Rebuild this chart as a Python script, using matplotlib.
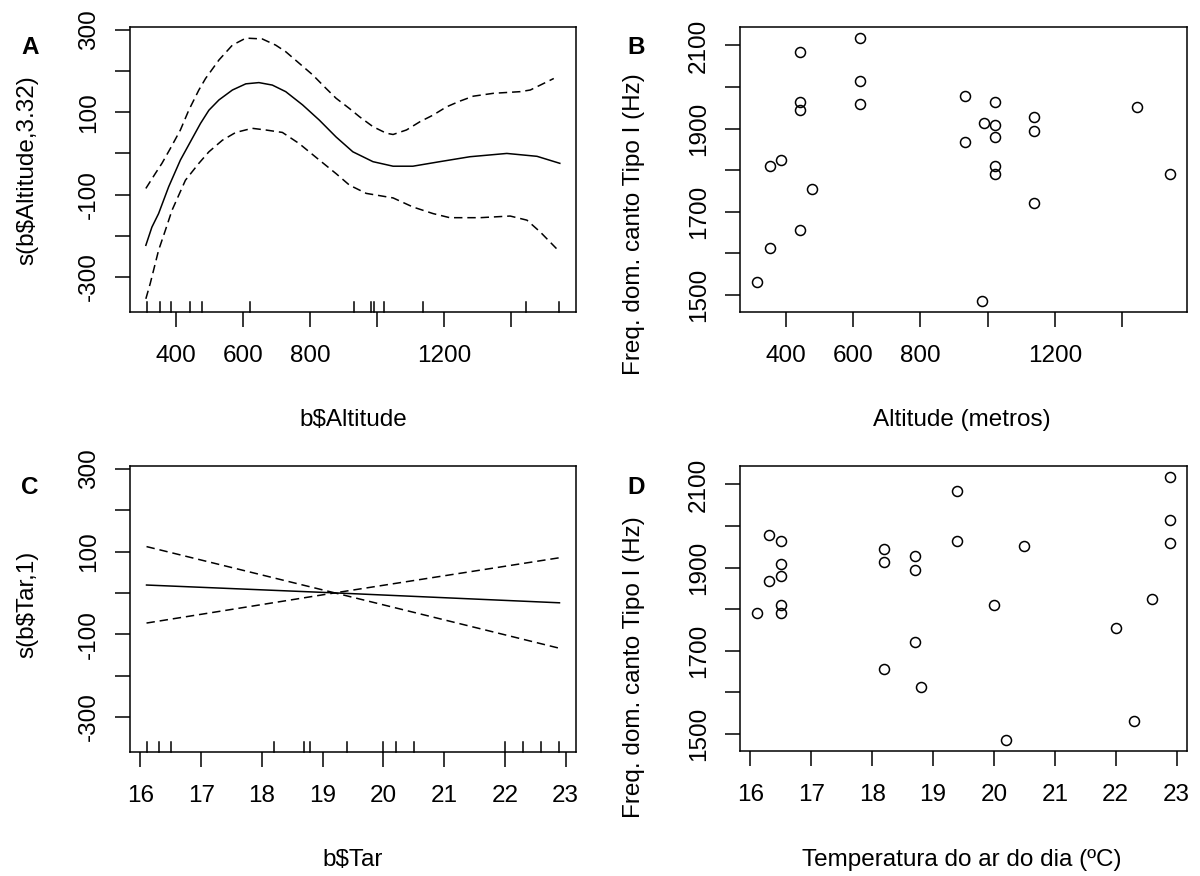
import matplotlib
matplotlib.use("Agg")
import matplotlib.pyplot as plt
import numpy as np

plt.rcParams['font.family'] = ['Liberation Sans', 'DejaVu Sans']

# one row per recording: altitude (m), air temperature (C), dominant frequency (Hz)
altitude = [313, 352, 352, 386, 443, 443, 443, 443, 477, 620, 620, 620, 932, 932,
            983, 990, 1022, 1022, 1022, 1022, 1022, 1138, 1138, 1138, 1444, 1544]
temp = [22.3, 18.8, 20.0, 22.6, 19.4, 19.4, 18.2, 18.2, 22.0, 22.9, 22.9, 22.9, 16.3, 16.3,
        20.2, 18.2, 16.5, 16.5, 16.5, 16.5, 16.5, 18.7, 18.7, 18.7, 20.5, 16.1]
freq = [1530, 1612, 1809, 1825, 2084, 1965, 1945, 1657, 1755, 2119, 2014, 1960, 1979, 1867,
        1484, 1914, 1964, 1909, 1879, 1810, 1790, 1929, 1895, 1721, 1953, 1790]

# gam smooth s(Altitude, 3.32): fit and +/- 2 se bands
fit_alt = [311, 329, 349, 379, 414, 449, 474, 499, 529, 569, 609, 648, 688, 728, 778, 828,
           878, 928, 988, 1048, 1107, 1187, 1277, 1387, 1477, 1545]
fit_val = [-223, -179, -146, -81, -16, 36, 73, 105, 130, 154, 169, 172, 166, 150, 118, 81,
           40, 4, -20, -31, -31, -20, -8, 0, -7, -24]
up_alt = [311, 339, 359, 384, 414, 439, 469, 489, 529, 569, 609, 658, 698, 728, 768, 808, 848,
          878, 918, 948, 988, 1028, 1048, 1088, 1128, 1167, 1207, 1247, 1287, 1347, 1427, 1457,
          1487, 1527]
up_val = [-85, -49, -24, 12, 57, 105, 154, 182, 227, 263, 280, 278, 263, 247, 219, 191, 158,
          134, 109, 89, 65, 49, 46, 57, 77, 93, 113, 127, 139, 146, 150, 154, 166, 182]
lo_alt = [311, 324, 349, 369, 389, 429, 469, 499, 539, 579, 628, 668, 718, 768, 828, 878, 918,
          968, 1048, 1107, 1167, 1217, 1307, 1397, 1447, 1487, 1535]
lo_val = [-353, -316, -235, -187, -138, -65, -24, 4, 32, 51, 61, 57, 51, 24, -16, -49, -77,
          -97, -108, -130, -146, -156, -156, -152, -162, -191, -231]

# linear term s(Tar, 1)
tar_line = [16.1, 19.2, 22.9]
tar_fit = [19, 0, -24]
tar_up = [112, 0, 85]
tar_lo = [-73, 0, -134]

FS = 17.5
TICK_LEN = 10.8
DASH = (0, (5.5, 3.2))


def r_range(vals):
    # R's default 4% axis padding
    lo, hi = min(vals), max(vals)
    pad = 0.04 * (hi - lo)
    return lo - pad, hi + pad


def style(ax, xticks, xlabels, yticks, ylabels):
    for sp in ax.spines.values():
        sp.set_linewidth(1.1)
        sp.set_color('black')
    ax.set_xticks(xticks)
    ax.set_xticklabels(xlabels)
    ax.set_yticks(yticks)
    ax.set_yticklabels(ylabels)
    ax.tick_params(direction='out', length=TICK_LEN, width=1.1, labelsize=FS, color='black')
    ax.tick_params(axis='x', pad=13)
    ax.tick_params(axis='y', pad=11)
    for lbl in ax.get_yticklabels():
        lbl.set_rotation(90)
        lbl.set_va('center')
        lbl.set_ha('right')


def rug(ax, vals):
    for v in sorted(set(vals)):
        ax.plot([v, v], [0, 0.035], color='black', lw=1.1,
                transform=ax.get_xaxis_transform(), clip_on=False)


fig = plt.figure(figsize=(12, 8.76), dpi=100)
W, H = 1200, 876


def box(l, t, r, b):
    return [l / W, 1 - b / H, (r - l) / W, (b - t) / H]


s_ticks = [-300, -200, -100, 0, 100, 200, 300]
s_labels = ['-300', '', '-100', '', '100', '', '300']
s_ylim = (-385, 307)

# A
axA = fig.add_axes(box(130, 27, 576, 312))
axA.plot(fit_alt, fit_val, color='black', lw=1.1)
axA.plot(up_alt, up_val, color='black', lw=1.1, linestyle=DASH)
axA.plot(lo_alt, lo_val, color='black', lw=1.1, linestyle=DASH)
rug(axA, altitude)
axA.set_xlim(*r_range(altitude))
axA.set_ylim(*s_ylim)
style(axA, [400, 600, 800, 1000, 1200, 1400], ['400', '600', '800', '', '1200', ''],
      s_ticks, s_labels)

# B
axB = fig.add_axes(box(740, 27, 1187, 312))
axB.plot(altitude, freq, 'o', mfc='none', mec='black', ms=7.2, mew=1.1)
axB.set_xlim(*r_range(altitude))
axB.set_ylim(*r_range(freq))
f_ticks = [1500, 1600, 1700, 1800, 1900, 2000, 2100]
f_labels = ['1500', '', '1700', '', '1900', '', '2100']
style(axB, [400, 600, 800, 1000, 1200, 1400], ['400', '600', '800', '', '1200', ''],
      f_ticks, f_labels)

# C
axC = fig.add_axes(box(130, 466, 576, 752))
axC.plot(tar_line, tar_fit, color='black', lw=1.1)
axC.plot(tar_line, tar_up, color='black', lw=1.1, linestyle=DASH)
axC.plot(tar_line, tar_lo, color='black', lw=1.1, linestyle=DASH)
rug(axC, temp)
axC.set_xlim(*r_range(temp))
axC.set_ylim(*s_ylim)
t_ticks = list(range(16, 24))
style(axC, t_ticks, [str(t) for t in t_ticks], s_ticks, s_labels)

# D
axD = fig.add_axes(box(740, 466, 1187, 751))
axD.plot(temp, freq, 'o', mfc='none', mec='black', ms=7.2, mew=1.1)
axD.set_xlim(*r_range(temp))
axD.set_ylim(*r_range(freq))
style(axD, t_ticks, [str(t) for t in t_ticks], f_ticks, f_labels)


def ftext(x, y, s, **kw):
    fig.text(x / W, 1 - y / H, s, fontsize=FS, ha='center', va='center', **kw)


ftext(30, 47, 'A', fontweight='bold')
ftext(636, 47, 'B', fontweight='bold')
ftext(30, 487, 'C', fontweight='bold')
ftext(636, 487, 'D', fontweight='bold')

ftext(27, 170, 's(b$Altitude,3.32)', rotation=90)
ftext(634, 224, 'Freq. dom. canto Tipo I (Hz)', rotation=90)
ftext(27, 604, 's(b$Tar,1)', rotation=90)
ftext(634, 667, 'Freq. dom. canto Tipo I (Hz)', rotation=90)

ftext(353, 420, 'b$Altitude')
ftext(962, 420, 'Altitude (metros)')
ftext(353, 860, 'b$Tar')
ftext(962, 860, 'Temperatura do ar do dia (ºC)')

fig.savefig('out.png', dpi=100)
